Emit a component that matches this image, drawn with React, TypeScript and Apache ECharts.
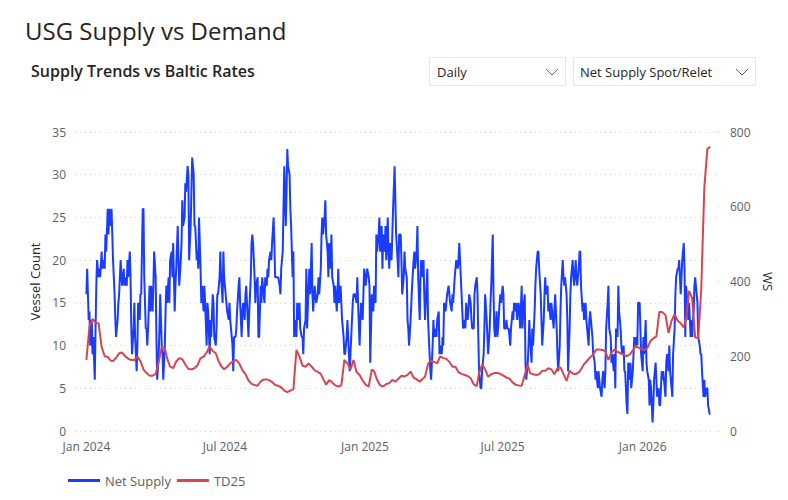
import React, { useEffect, useRef } from "react";
import * as echarts from "echarts";

// ---- data ----
// Net Supply: one reading per screen pixel-step of the original (~1.3 days)
const netSupply = [
  16,19,13,14,10,13,9,11,6,12,17,20,18,19,18,21,19,20,19,23,21,26,23,26,24,26,23,20,16,13,
  11,13,15,16,20,18,17,19,17,18,17,20,18,21,18,12,9,12,15,11,7,10,15,13,16,16,26,26,18,12,
  12,10,12,17,14,17,14,17,21,18,11,6,9,12,16,10,9,6,10,14,17,15,18,15,20,21,18,22,14,17,
  19,24,20,17,20,22,27,24,25,29,28,31,30,20,
  24,28,32,30,24,24,20,21,19,25,19,15,17,14,17,15,10,15,14,9,13,11,16,15,11,10,12,16,16,18,
  21,18,15,21,18,16,15,14,13,15,13,11,10,7,11,11,12,14,17,18,15,11,14,15,13,16,17,13,11,14,
  18,22,23,22,18,15,17,18,11,11,17,15,18,16,15,18,17,19,18,20,21,20,22,25,22,18,18,18,18,17,
  16,19,21,26,31,24,28,33,31,30,26,24,18,21,11,
  13,11,15,13,15,12,11,11,9,12,13,19,12,17,19,16,22,16,14,17,16,15,16,18,16,19,23,25,23,25,
  27,23,21,18,22,19,23,18,17,15,17,14,16,19,15,17,15,13,11,9,9,11,13,11,7,9,11,15,16,16,
  16,15,18,15,10,13,15,13,16,19,17,18,19,18,17,8,16,15,14,17,15,23,21,23,25,21,24,19,23,21,
  24,20,25,21,19,22,20,23,26,31,27,23,20,18,23,
  23,20,16,18,21,19,18,13,12,10,13,15,17,20,21,19,21,24,18,13,18,20,18,20,16,13,17,19,13,9,
  7,6,10,13,11,12,11,13,14,9,10,9,11,10,15,14,15,16,17,16,15,14,16,15,18,19,20,19,20,22,
  20,16,14,12,13,12,15,13,14,16,15,13,12,12,16,17,18,16,11,7,5,5,7,9,12,16,13,11,9,12,
  15,17,23,16,12,11,14,11,12,15,16,15,17,16,12,
  12,13,12,12,11,10,12,14,13,15,14,15,13,15,14,12,17,12,14,16,8,6,8,10,13,11,8,12,10,14,
  17,19,21,21,19,16,13,10,13,16,18,16,17,14,15,13,15,14,12,14,16,12,9,7,10,14,17,20,18,17,
  18,16,13,7,12,16,18,20,18,17,20,18,17,19,21,21,17,14,15,13,15,13,12,10,13,14,12,11,9,8,
  6,7,5,7,6,5,4,6,7,5,7,12,15,17,12,
  11,8,9,7,9,5,12,11,17,14,12,10,9,10,7,7,3,2,8,6,8,5,7,9,11,10,11,10,15,15,
  12,9,7,11,9,13,8,7,6,3,6,5,1,3,6,8,6,4,5,3,3,7,6,7,5,4,8,9,7,10,
  7,5,4,9,12,16,18,19,19,20,16,18,20,22,19,11,17,15,13,15,11,13,11,14,17,18,16,15,11,10,
  9,9,7,4,6,4,5,5,3,2,2,
];

// TD25 (WS): one reading every 3 steps of the Net Supply series
const td25 = [
  190,280,300,290,288,225,200,198,188,187,196,208,210,200,193,190,190,199,187,165,
  155,148,148,152,185,225,222,195,172,168,186,195,192,178,166,165,168,176,195,199,
  210,226,214,208,190,174,165,172,181,187,190,180,163,152,135,126,123,121,133,138,
  138,136,131,123,121,117,108,104,108,112,217,199,175,172,181,172,162,158,153,140,
  124,136,130,122,119,122,190,181,165,190,158,150,135,124,119,164,160,137,122,119,
  126,128,137,132,140,148,146,150,159,143,138,132,140,145,180,188,185,181,200,195,
  193,185,172,172,157,153,150,147,141,125,120,155,178,165,145,152,155,155,153,148,
  143,140,130,124,122,121,150,178,155,152,150,152,161,161,168,165,152,168,170,152,
  134,161,154,152,157,165,179,188,197,205,218,218,217,213,190,210,218,212,208,204,
  200,205,215,226,224,219,217,222,240,248,253,319,318,310,262,295,312,295,288,277,
  300,375,355,250,249,380,650,755,760,
];

const seriesNames = ["Net Supply", "TD25"];
const xLabelDates = [
  [2024, 0, 1],
  [2024, 6, 1],
  [2025, 0, 1],
  [2025, 6, 1],
  [2026, 0, 1],
];
const monthNames = ["Jan","Feb","Mar","Apr","May","Jun","Jul","Aug","Sep","Oct","Nov","Dec"];
const leftAxis = { min: 0, max: 35, interval: 5 };
const rightAxis = { min: 0, max: 800, interval: 200 };
const dropdownTexts = ["Daily", "Net Supply Spot/Relet"];

// x is measured in days since 1 Jan 2024; first reading is 1 Jan 2024,
// last is 31 Mar 2026 (820 days over 624 steps)
const DAYS_PER_STEP = 820 / 624;
const DAY_MS = 86400000;
const ORIGIN = Date.UTC(2024, 0, 1);
const dayOf = (y: number, m: number, d: number) => Math.round((Date.UTC(y, m, d) - ORIGIN) / DAY_MS);
const labelOf = (day: number) => {
  const dt = new Date(ORIGIN + Math.round(day) * DAY_MS);
  return monthNames[dt.getUTCMonth()] + " " + dt.getUTCFullYear();
};

const FONT = "'Open Sans', 'Noto Sans', sans-serif";

export default function App() {
  const ref = useRef<HTMLDivElement>(null);

  useEffect(() => {
    if (!ref.current) return;
    const chart = echarts.init(ref.current, undefined, { renderer: "svg" });

    const blueData = netSupply.map((v, i) => [Math.round(i * DAYS_PER_STEP), v]);
    const redData = td25.map((v, j) => [Math.round(3 * j * DAYS_PER_STEP), v]);

    const chevron = (cx: number) => ({
      type: "polyline",
      shape: { points: [[cx - 6, 69], [cx, 75], [cx + 6, 69]] },
      style: { stroke: "#605e5c", lineWidth: 1, fill: "none" },
    });

    chart.setOption({
      animation: false,
      textStyle: { fontFamily: FONT },
      grid: { left: 75, right: 70, top: 132, bottom: 69, containLabel: false },
      legend: {
        left: 63,
        top: 469,
        itemWidth: 32,
        itemHeight: 3,
        itemGap: 6,
        icon: "rect",
        textStyle: { fontSize: 13, color: "#605e5c", fontFamily: FONT },
        data: seriesNames,
      },
      graphic: [
        {
          type: "text",
          left: 25,
          top: 18,
          style: { text: "USG Supply vs Demand", fontSize: 24, fill: "#252423", fontFamily: FONT },
        },
        {
          type: "text",
          left: 31,
          top: 63,
          style: {
            text: "Supply Trends vs Baltic Rates",
            fontSize: 16,
            fontWeight: 600,
            fill: "#252423",
            fontFamily: FONT,
          },
        },
        {
          type: "rect",
          shape: { x: 429.5, y: 57.5, width: 136, height: 28 },
          style: { fill: "#ffffff", stroke: "#e6e6e6", lineWidth: 1 },
        },
        {
          type: "rect",
          shape: { x: 573.5, y: 57.5, width: 182, height: 28 },
          style: { fill: "#ffffff", stroke: "#e6e6e6", lineWidth: 1 },
        },
        {
          type: "text",
          x: 437,
          y: 72,
          style: { text: dropdownTexts[0], fontSize: 13, fill: "#252423", verticalAlign: "middle", fontFamily: FONT },
        },
        {
          type: "text",
          x: 580,
          y: 72,
          style: { text: dropdownTexts[1], fontSize: 13, fill: "#252423", verticalAlign: "middle", fontFamily: FONT },
        },
        chevron(552),
        chevron(742),
      ],
      xAxis: {
        type: "value",
        min: -15,
        max: 830,
        axisLine: { show: false },
        axisTick: { show: false },
        splitLine: { show: false },
        axisLabel: {
          customValues: xLabelDates.map(([y, m, d]) => dayOf(y, m, d)),
          formatter: (v: number) => labelOf(v),
          color: "#605e5c",
          fontSize: 12,
          margin: 9,
          fontFamily: FONT,
        },
      },
      yAxis: [
        {
          type: "value",
          min: leftAxis.min,
          max: leftAxis.max,
          interval: leftAxis.interval,
          name: "Vessel Count",
          nameLocation: "middle",
          nameGap: 30,
          nameRotate: 90,
          nameTextStyle: { color: "#252423", fontSize: 13, fontFamily: FONT },
          axisLine: { show: false },
          axisTick: { show: false },
          axisLabel: { color: "#605e5c", fontSize: 12, margin: 9, fontFamily: FONT },
          splitLine: { show: true, lineStyle: { color: "#d6d6d6", type: [1, 4], width: 1 } },
        },
        {
          type: "value",
          min: rightAxis.min,
          max: rightAxis.max,
          interval: rightAxis.interval,
          position: "right",
          name: "WS",
          nameLocation: "middle",
          nameGap: 35,
          nameRotate: -90,
          nameTextStyle: { color: "#252423", fontSize: 13, fontFamily: FONT },
          axisLine: { show: false },
          axisTick: { show: true, length: 4, lineStyle: { color: "#d6d6d6", type: [1, 3] } },
          axisLabel: { color: "#605e5c", fontSize: 12, margin: 12, fontFamily: FONT },
          splitLine: { show: false },
        },
      ],
      series: [
        {
          name: seriesNames[0],
          type: "line",
          yAxisIndex: 0,
          data: blueData,
          symbol: "none",
          lineStyle: { color: "#1a3cff", width: 2 },
          itemStyle: { color: "#1a3cff" },
        },
        {
          name: seriesNames[1],
          type: "line",
          yAxisIndex: 1,
          data: redData,
          symbol: "none",
          lineStyle: { color: "#d64550", width: 2 },
          itemStyle: { color: "#d64550" },
        },
      ],
    });

    return () => chart.dispose();
  }, []);

  return (
    <div
      ref={ref}
      style={{ position: "fixed", left: 0, top: 0, width: 788, height: 500, background: "#ffffff" }}
    />
  );
}
